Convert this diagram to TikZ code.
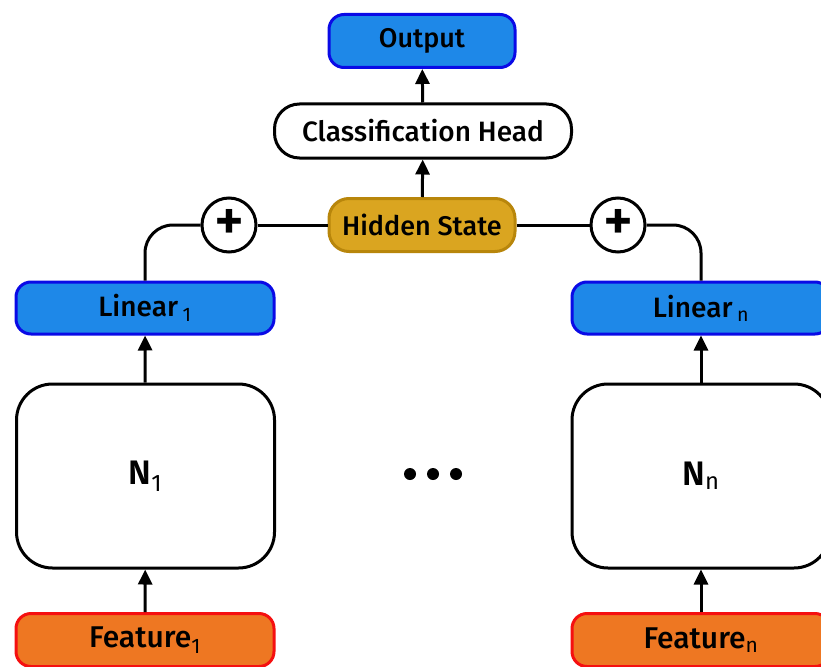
\documentclass[tikz,border=0pt]{standalone}
\usepackage{fontspec}
\setmainfont{Fira Sans}[UprightFont=* Medium, BoldFont=* SemiBold]
\newfontfamily\subfont{Fira Sans}
\usetikzlibrary{arrows.meta}
\definecolor{boxblue}{HTML}{1E88E8}
\definecolor{lineblue}{HTML}{0A0AE6}
\definecolor{featorange}{HTML}{EE7722}
\definecolor{featred}{HTML}{F51010}
\definecolor{hiddengold}{HTML}{DAA520}
\definecolor{hiddenrim}{HTML}{B8860B}
\newcommand{\idx}[1]{\textsubscript{\subfont\mdseries #1}}
\tikzset{
    every node/.style={draw, line width=3pt, inner sep=0pt, align=center,
    	font=\fontsize{27}{30}\selectfont}
}
\tikzset{
    bluebox/.style={fill=boxblue, draw=lineblue, rounded corners=15pt},
    featbox/.style={fill=featorange, draw=featred, rounded corners=15pt,
    	minimum width=258pt, minimum height=53pt, font=\fontsize{30}{32}\selectfont},
    netbox/.style={fill=white, rounded corners=36pt,
    	minimum width=258pt, minimum height=184pt, font=\fontsize{34}{36}\selectfont\bfseries},
    plusnode/.style={circle, fill=white, minimum size=54pt,
    	font=\fontsize{58}{58}\selectfont},
    dotnode/.style={circle, fill, draw=none, minimum size=12pt},
    conn/.style={line width=3pt},
    arr/.style={line width=3pt, -{Triangle[length=15pt, width=14pt]}}
}

\begin{document}
\begin{tikzpicture}
	\useasboundingbox (0pt,0pt) rectangle (821pt,-666pt);
	\node (out) [bluebox, minimum width=186pt, minimum height=53pt] at (422pt,-41pt) {Output};
	\node (head) [fill=white, rounded corners=25pt, minimum width=297pt, minimum height=54pt,
		font=\fontsize{28}{30}\selectfont] at (423pt,-131pt) {Classification Head};
	\node (hidden) [fill=hiddengold, draw=hiddenrim, rounded corners=20pt,
		minimum width=186pt, minimum height=53pt] at (422pt,-225pt) {Hidden State};
	\node (plus1) [plusnode] at (229pt,-225pt) {+};
	\node (plusn) [plusnode] at (618pt,-225pt) {+};
	\node (lin1) [bluebox, minimum width=258pt, minimum height=52pt,
		font=\fontsize{28}{30}\selectfont] at (145pt,-308pt) {Linear\,\idx{1}};
	\node (linn) [bluebox, minimum width=258pt, minimum height=52pt,
		font=\fontsize{28}{30}\selectfont] at (701pt,-308pt) {Linear\,\idx{n}};
	\node (net1) [netbox] at (145.5pt,-476pt) {N\idx{1}};
	\node (netn) [netbox] at (701pt,-476pt) {N\idx{n}};
	\node (dot1) [dotnode] at (410pt,-474pt) {};
	\node (dot2) [dotnode] at (433pt,-474pt) {};
	\node (dot3) [dotnode] at (456pt,-474pt) {};
	\node (feat1) [featbox] at (145pt,-640pt) {Feature\idx{1}};
	\node (featn) [featbox] at (701pt,-640pt) {Feature\idx{n}};

	\draw [conn, rounded corners=28pt] (lin1.north) |- (plus1.west);
	\draw [conn] (plus1) -- (hidden); \draw [conn] (hidden) -- (plusn);
	\draw [conn, rounded corners=28pt] (plusn.east) -| (linn.north);

	\draw [arr] (hidden) -- (head); \draw [arr] (head) -- (out);
	\draw [arr] (net1) -- (lin1); \draw [arr] (netn) -- (linn);
	\draw [arr] (feat1) -- (net1); \draw [arr] (featn) -- (netn);
\end{tikzpicture}
\end{document}
